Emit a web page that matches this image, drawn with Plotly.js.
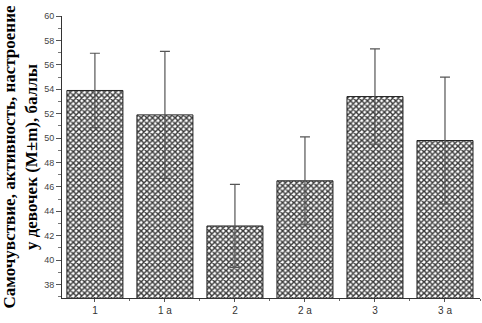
<!DOCTYPE html>
<html><head><meta charset="utf-8">
<script src="https://cdn.plot.ly/plotly-3.0.1.min.js"></script>
<style>html,body{margin:0;padding:0;background:#fff}#c{width:482px;height:323px}</style>
</head><body><div id="c"></div>
<script>
const categories = ["1", "1 a", "2", "2 a", "3", "3 a"];
const means = [53.9, 51.9, 42.8, 46.5, 53.4, 49.8];
const errors = [3.05, 5.2, 3.4, 3.6, 3.9, 5.2];
const yTickVals = [38, 40, 42, 44, 46, 48, 50, 52, 54, 56, 58, 60];

const trace = {
  type: "bar",
  x: categories,
  y: means,
  base: 0,
  marker: {
    color: "#ffffff",
    line: {color: "#222", width: 1},
    pattern: {shape: "x", fgcolor: "#3a3a3a", bgcolor: "#ffffff", size: 4, solidity: 0.6}
  },
  error_y: {type: "data", array: errors, visible: true, color: "#555", thickness: 1.2, width: 5}
};

const ghost = {
  type: "bar", x: categories, y: means.map(() => null), xaxis: "x2", yaxis: "y",
  hoverinfo: "skip", showlegend: false
};

const layout = {
  width: 482, height: 323,
  margin: {l: 62, r: 2, t: 16, b: 25},
  paper_bgcolor: "#fff", plot_bgcolor: "#fff",
  showlegend: false,
  bargap: 0.2,
  xaxis: {
    type: "category", range: [-0.47, 5.5],
    showline: true, linecolor: "#333", linewidth: 1,
    ticks: "outside", ticklen: 3, tickcolor: "#555",
    tickfont: {family: "Liberation Sans, Arial", size: 10, color: "#333"},
    showgrid: false, zeroline: false
  },
  xaxis2: {
    type: "category", range: [-0.47, 5.5], overlaying: "x", matches: null,
    tickson: "boundaries", ticks: "outside", ticklen: 2, tickcolor: "#666",
    showticklabels: false, showline: false, showgrid: false, zeroline: false
  },
  yaxis: {
    range: [36.9, 60], tickvals: yTickVals,
    showline: true, linecolor: "#333", linewidth: 1,
    ticks: "outside", ticklen: 5, tickcolor: "#555",
    minor: {dtick: 1, ticks: "outside", ticklen: 3, tickcolor: "#777", showgrid: false},
    tickfont: {family: "Liberation Sans, Arial", size: 9, color: "#444"},
    showgrid: false, zeroline: false,
    title: {
      text: "Самочувствие, активность, настроение<br>у девочек (M±m), баллы",
      font: {family: "Liberation Serif, Times New Roman", size: 17, color: "#000", weight: "bold"},
      standoff: 3
    }
  }
};

Plotly.newPlot("c", [trace, ghost], layout, {displayModeBar: false, staticPlot: true});
</script>
</body></html>
